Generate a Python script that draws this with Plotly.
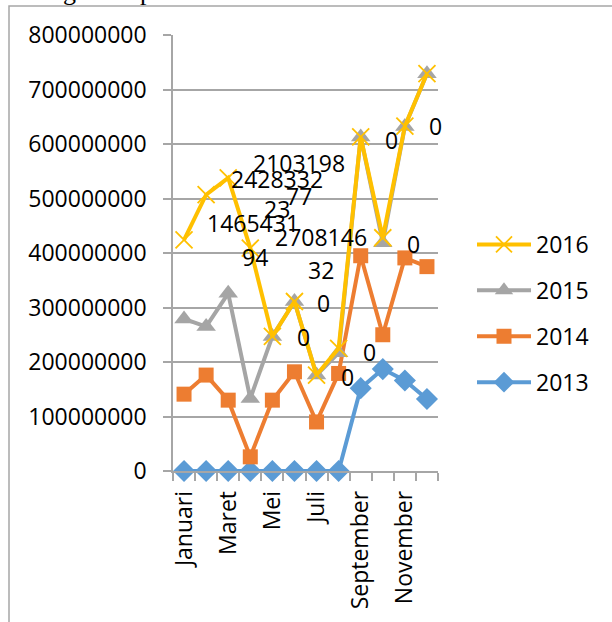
import plotly.graph_objects as go

months = ["Januari", "Februari", "Maret", "April", "Mei", "Juni", "Juli",
          "Agustus", "September", "Oktober", "November", "Desember"]
tick_text = ["Januari", "", "Maret", "", "Mei", "", "Juli", "",
             "September", "", "November", ""]

v2013 = [0, 0, 0, 0, 0, 0, 0, 0, 152e6, 187e6, 166e6, 132e6]
v2014 = [141e6, 176e6, 130e6, 26e6, 130e6, 182e6, 90e6, 179e6, 395e6, 250e6, 391e6, 375e6]
v2015 = [279e6, 265e6, 326e6, 133e6, 247e6, 311e6, 176e6, 217e6, 613e6, 419e6, 632e6, 729e6]
v2016 = [424e6, 507e6, 538e6, 409e6, 247e6, 311e6, 176e6, 225e6, 613e6, 428e6, 633e6, 729e6]

# stray data labels: (text, category position, value position)
label_text = ["0", "0", "0", "2103198", "2428332", "77", "23", "1465431",
              "2708146", "94", "0", "32", "0", "0", "0", "0"]
label_x = [12.4, 11.4, 9.4, 5.2, 4.2, 5.2, 4.2, 3.1, 6.2, 3.2, 10.4, 6.2, 6.3, 5.4, 8.4, 7.4]
label_y = [724e6, 633e6, 607e6, 566e6, 535e6, 505e6, 480e6, 455e6,
           430e6, 393e6, 417e6, 369e6, 309e6, 245e6, 219e6, 173e6]

FONT = "Open Sans"
GRID = "#a6a6a6"

fig = go.Figure()
series = [
    ("2013", v2013, "#5B9BD5", dict(symbol="diamond", size=17), 4),
    ("2014", v2014, "#ED7D31", dict(symbol="square", size=15), 3),
    ("2015", v2015, "#A5A5A5", dict(symbol="triangle-up", size=17), 2),
    ("2016", v2016, "#FFC000", dict(symbol="x-thin", size=17,
                                    line=dict(width=1.8, color="#FFC000")), 1),
]
for name, vals, col, mk, rank in series:
    fig.add_trace(go.Scatter(
        x=months, y=vals, name=name, mode="lines+markers",
        line=dict(color=col, width=4), marker=dict(color=col, **mk),
        legendgroup=name, legendrank=rank, cliponaxis=False))

annotations = [
    dict(x=x, y=y, xref="x", yref="y", text=t, showarrow=False,
         font=dict(family=FONT, size=23, color="black"))
    for t, x, y in zip(label_text, label_x, label_y)
]
# clipped text fragments from the page above the chart
annotations += [
    dict(x=(61 - 173) / 265, y=(471 + 25) / 436, xref="paper", yref="paper",
         text="g", showarrow=False, font=dict(family="Liberation Serif", size=26, color="black")),
    dict(x=(138 - 173) / 265, y=(471 + 25) / 436, xref="paper", yref="paper",
         text="p", showarrow=False, font=dict(family="Liberation Serif", size=26, color="black")),
]

fig.update_layout(
    width=612, height=622,
    margin=dict(l=173, r=174, t=35, b=151),
    paper_bgcolor="white", plot_bgcolor="white",
    font=dict(family=FONT, size=23, color="black"),
    showlegend=True,
    legend=dict(x=(472 - 173) / 265, y=(471 - 223) / 436, xanchor="left", yanchor="top",
                traceorder="grouped", tracegroupgap=13, itemwidth=54,
                font=dict(family=FONT, size=23, color="black"),
                bgcolor="rgba(0,0,0,0)"),
    annotations=annotations,
    shapes=[dict(type="rect", xref="paper", yref="paper",
                 x0=(9 - 173) / 265, x1=2.0, y0=(471 - 6) / 436, y1=-1.0,
                 line=dict(color=GRID, width=1.5))],
)
fig.update_xaxes(
    type="category", categoryorder="array", categoryarray=months,
    tickvals=months, ticktext=tick_text, tickangle=-90,
    tickson="boundaries", ticks="outside", ticklen=8, tickcolor=GRID, tickwidth=1.5,
    showline=True, linecolor=GRID, linewidth=1.5, showgrid=False,
    ticklabelstandoff=9,
    range=[-0.5, 11.5], tickfont=dict(family=FONT, size=23, color="black"),
)
fig.update_yaxes(
    range=[0, 800e6], tickvals=[i * 100e6 for i in range(9)],
    ticktext=[str(i * 100000000) for i in range(9)],
    ticks="outside", ticklen=8, tickcolor=GRID, tickwidth=1.5,
    showline=True, linecolor=GRID, linewidth=1.5,
    showgrid=True, gridcolor=GRID, gridwidth=1.5, zeroline=False,
    ticklabelstandoff=12,
    tickfont=dict(family=FONT, size=23, color="black"),
)

fig.write_html("out.html")
